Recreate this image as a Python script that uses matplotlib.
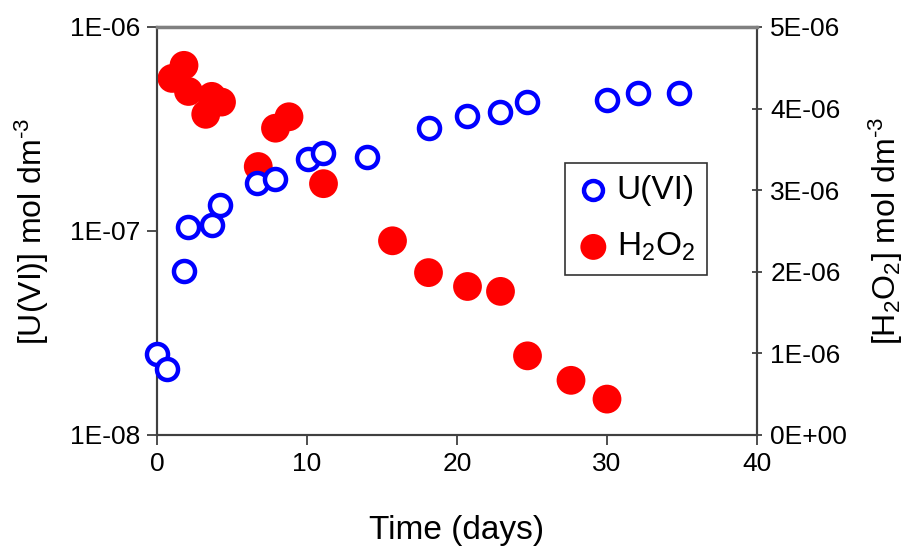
import matplotlib
matplotlib.use("Agg")
import matplotlib.pyplot as plt
from matplotlib.ticker import FixedLocator, FixedFormatter, NullLocator

plt.rcParams['font.family'] = ['Liberation Sans', 'DejaVu Sans']
plt.rcParams['mathtext.fontset'] = 'custom'
plt.rcParams['mathtext.rm'] = 'Liberation Sans'
plt.rcParams['mathtext.it'] = 'Liberation Sans:italic'
plt.rcParams['mathtext.bf'] = 'Liberation Sans:bold'

# U(VI) data (left, log axis)
u_days = [0.0, 0.7, 1.8, 2.1, 3.7, 4.2, 6.7, 7.9, 10.1, 11.1, 14.0,
          18.1, 20.7, 22.9, 24.7, 30.0, 32.1, 34.8]
u_conc = [2.5e-8, 2.1e-8, 6.4e-8, 1.05e-7, 1.07e-7, 1.34e-7, 1.71e-7, 1.80e-7,
          2.25e-7, 2.42e-7, 2.31e-7, 3.19e-7, 3.66e-7, 3.85e-7, 4.29e-7,
          4.39e-7, 4.76e-7, 4.76e-7]

# H2O2 data (right, linear axis)
h_days = [1.0, 1.8, 2.1, 3.25, 3.65, 4.3, 6.75, 7.9, 8.8, 11.1,
          15.7, 18.1, 20.7, 22.9, 24.7, 27.6, 30.0]
h_conc = [4.37e-6, 4.53e-6, 4.21e-6, 3.93e-6, 4.15e-6, 4.08e-6, 3.29e-6,
          3.76e-6, 3.90e-6, 3.08e-6, 2.38e-6, 1.99e-6, 1.82e-6, 1.76e-6,
          0.97e-6, 0.67e-6, 0.44e-6]

x_ticks = [0, 10, 20, 30, 40]
left_ticks = [1e-8, 1e-7, 1e-6]
left_labels = ['1E-08', '1E-07', '1E-06']
right_ticks = [0, 1e-6, 2e-6, 3e-6, 4e-6, 5e-6]
right_labels = ['0E+00', '1E-06', '2E-06', '3E-06', '4E-06', '5E-06']

fig = plt.figure(figsize=(9.03, 5.5), dpi=100)
ax = fig.add_axes([157/903, 1 - 435/550, 600/903, 408/550])
ax2 = ax.twinx()

ax.set_yscale('log')
ax.set_ylim(1e-8, 1e-6)
ax.set_xlim(0, 40)
ax2.set_ylim(0, 5e-6)

ax.yaxis.set_major_locator(FixedLocator(left_ticks))
ax.yaxis.set_major_formatter(FixedFormatter(left_labels))
ax.yaxis.set_minor_locator(NullLocator())
ax.set_xticks(x_ticks)
ax.set_xticklabels([str(t) for t in x_ticks])
ax2.yaxis.set_major_locator(FixedLocator(right_ticks))
ax2.yaxis.set_major_formatter(FixedFormatter(right_labels))

h1 = ax.scatter(u_days, u_conc, s=230, facecolors='white', edgecolors='#0000FF',
                linewidths=3.2, zorder=3, clip_on=False, label='U(VI)')
h2 = ax2.scatter(h_days, h_conc, s=430, color='#FF0000', edgecolors='none',
                 zorder=3, clip_on=False, label='H$_2$O$_2$')
ax.set_zorder(ax2.get_zorder() + 1)
ax.patch.set_visible(False)

for a in (ax, ax2):
    for s in a.spines.values():
        s.set_color('#404040')
        s.set_linewidth(1.5)
ax.spines['top'].set_color('#808080')
ax.spines['top'].set_linewidth(2.5)

ax.tick_params(axis='both', which='major', labelsize=19, length=7, width=1.3,
               color='#404040', direction='out', pad=5)
ax2.tick_params(axis='y', which='major', labelsize=19, length=7, width=1.3,
                color='#404040', direction='inout', pad=6)

ax.set_xlabel('Time (days)', fontsize=24, labelpad=28)
ax.set_ylabel(r'[U(VI)] mol dm$^{\text{-}3}$', fontsize=23, labelpad=14)
ax2.set_ylabel(r'[H$_2$O$_2$] mol dm$^{\text{-}3}$', fontsize=23, labelpad=14)

leg = ax.legend(handles=[h1, h2], loc='upper left',
                bbox_to_anchor=((565 - 157) / 600, (435 - 163) / 408),
                fontsize=24, frameon=True, fancybox=False, edgecolor='black',
                handletextpad=0.2, borderpad=0.35, labelspacing=0.75,
                handlelength=1.0, markerscale=0.9, borderaxespad=0)
leg.get_frame().set_linewidth(1.2)

fig.savefig('out.png', dpi=100)
